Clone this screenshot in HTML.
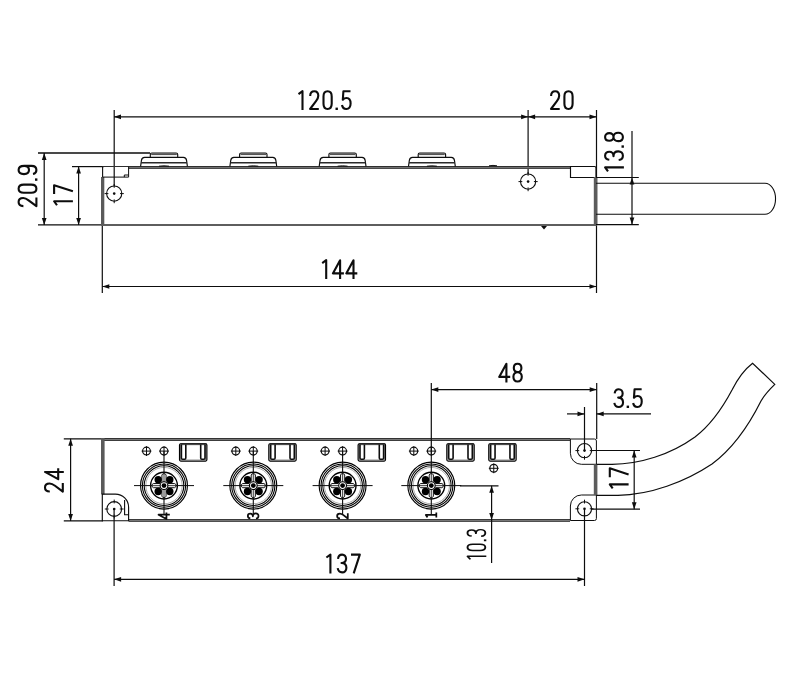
<!DOCTYPE html>
<html><head><meta charset="utf-8"><style>
html,body{margin:0;padding:0;background:#fff;width:800px;height:700px;overflow:hidden}
svg{display:block}
text{font-family:"Liberation Sans",sans-serif;fill:#1c1c1c}
</style></head><body>
<svg width="800" height="700" viewBox="0 0 800 700">
<rect width="800" height="700" fill="#fff"/>
<line x1="38" y1="153" x2="150" y2="153" stroke="#0d0d0d" stroke-width="1.5"/>
<line x1="72" y1="166.6" x2="104" y2="166.6" stroke="#0d0d0d" stroke-width="1.2"/>
<line x1="38" y1="224.9" x2="102" y2="224.9" stroke="#0d0d0d" stroke-width="1.2"/>
<line x1="44.2" y1="153" x2="44.2" y2="224.9" stroke="#0d0d0d" stroke-width="1.2"/>
<polygon points="44.20,153.00 41.85,160.00 46.55,160.00" fill="#0d0d0d"/>
<polygon points="44.20,224.90 41.85,217.90 46.55,217.90" fill="#0d0d0d"/>
<line x1="78.6" y1="166.6" x2="78.6" y2="224.9" stroke="#0d0d0d" stroke-width="1.2"/>
<polygon points="78.60,166.60 76.25,173.60 80.95,173.60" fill="#0d0d0d"/>
<polygon points="78.60,224.90 76.25,217.90 80.95,217.90" fill="#0d0d0d"/>
<g transform="translate(37.4,186.15) rotate(-90) scale(1.0,1.0)"><path transform="translate(-15.95,0)" d="M-4.0,-14.0 C-4.0,-17 -2.2,-18.8 0.1,-18.8 C2.5,-18.8 4.1,-17 4.1,-14.2 C4.1,-12 3.2,-10.6 1.8,-8.8 L-4.1,-1 H4.6" fill="none" stroke="#0d0d0d" stroke-width="2.1" stroke-linecap="butt" stroke-linejoin="round"/><path transform="translate(-2.55,0)" d="M-4.1,-13.6 C-4.1,-17 -2.3,-18.8 0,-18.8 C2.3,-18.8 4.1,-17 4.1,-13.6 V-6.2 C4.1,-2.8 2.3,-1 0,-1 C-2.3,-1 -4.1,-2.8 -4.1,-6.2 Z" fill="none" stroke="#0d0d0d" stroke-width="2.1" stroke-linecap="butt" stroke-linejoin="round"/><rect x="5.35" y="-2.4" width="2.4" height="2.4" fill="#0d0d0d"/><path transform="translate(16.15,0)" d="M4.1,-13.2 C4.1,-10.2 2.3,-8.4 0,-8.4 C-2.3,-8.4 -4.1,-10.2 -4.1,-13.4 C-4.1,-16.8 -2.3,-18.8 0,-18.8 C2.3,-18.8 4.1,-16.8 4.1,-13.2 V-6.0 C4.1,-2.8 2.4,-1 0,-1 C-2.2,-1 -3.6,-2.3 -4.0,-4.4" fill="none" stroke="#0d0d0d" stroke-width="2.1" stroke-linecap="butt" stroke-linejoin="round"/></g>
<g transform="translate(72.9,195.4) rotate(-90) scale(1.0,1.0)"><path transform="translate(-7.55,0)" d="M-2.3,-15.9 L1.7,-18.8 V0" fill="none" stroke="#0d0d0d" stroke-width="2.1" stroke-linecap="butt" stroke-linejoin="round"/><path transform="translate(5.85,0)" d="M-4.5,-18.8 H4.3 L-1.8,0" fill="none" stroke="#0d0d0d" stroke-width="2.1" stroke-linecap="butt" stroke-linejoin="round"/></g>
<line x1="114.2" y1="110" x2="114.2" y2="186" stroke="#0d0d0d" stroke-width="1.2"/>
<line x1="528.1" y1="110" x2="528.1" y2="174" stroke="#0d0d0d" stroke-width="1.2"/>
<line x1="596.5" y1="110" x2="596.5" y2="293" stroke="#0d0d0d" stroke-width="1.2"/>
<line x1="114" y1="116.8" x2="528.1" y2="116.8" stroke="#0d0d0d" stroke-width="1.2"/>
<polygon points="114.00,116.80 121.00,114.45 121.00,119.15" fill="#0d0d0d"/>
<polygon points="528.10,116.80 521.10,114.45 521.10,119.15" fill="#0d0d0d"/>
<line x1="528.1" y1="116.8" x2="596.5" y2="116.8" stroke="#0d0d0d" stroke-width="1.2"/>
<polygon points="528.10,116.80 535.10,114.45 535.10,119.15" fill="#0d0d0d"/>
<polygon points="596.50,116.80 589.50,114.45 589.50,119.15" fill="#0d0d0d"/>
<g transform="translate(324.6,110) scale(1.0)"><path transform="translate(-23.80,0)" d="M-2.3,-15.9 L1.7,-18.8 V0" fill="none" stroke="#0d0d0d" stroke-width="2.1" stroke-linecap="butt" stroke-linejoin="round"/><path transform="translate(-10.40,0)" d="M-4.0,-14.0 C-4.0,-17 -2.2,-18.8 0.1,-18.8 C2.5,-18.8 4.1,-17 4.1,-14.2 C4.1,-12 3.2,-10.6 1.8,-8.8 L-4.1,-1 H4.6" fill="none" stroke="#0d0d0d" stroke-width="2.1" stroke-linecap="butt" stroke-linejoin="round"/><path transform="translate(3.00,0)" d="M-4.1,-13.6 C-4.1,-17 -2.3,-18.8 0,-18.8 C2.3,-18.8 4.1,-17 4.1,-13.6 V-6.2 C4.1,-2.8 2.3,-1 0,-1 C-2.3,-1 -4.1,-2.8 -4.1,-6.2 Z" fill="none" stroke="#0d0d0d" stroke-width="2.1" stroke-linecap="butt" stroke-linejoin="round"/><rect x="10.90" y="-2.4" width="2.4" height="2.4" fill="#0d0d0d"/><path transform="translate(21.70,0)" d="M4.2,-18.8 H-2.9 L-3.5,-10.2 C-2.6,-11.4 -1.3,-12.0 0.3,-12.0 C2.9,-12.0 4.3,-9.8 4.3,-6.4 C4.3,-2.9 2.6,-1 0.1,-1 C-2.3,-1 -3.9,-2.5 -4.3,-5.0" fill="none" stroke="#0d0d0d" stroke-width="2.1" stroke-linecap="butt" stroke-linejoin="round"/></g>
<g transform="translate(561.75,110) scale(1.0)"><path transform="translate(-6.65,0)" d="M-4.0,-14.0 C-4.0,-17 -2.2,-18.8 0.1,-18.8 C2.5,-18.8 4.1,-17 4.1,-14.2 C4.1,-12 3.2,-10.6 1.8,-8.8 L-4.1,-1 H4.6" fill="none" stroke="#0d0d0d" stroke-width="2.1" stroke-linecap="butt" stroke-linejoin="round"/><path transform="translate(6.75,0)" d="M-4.1,-13.6 C-4.1,-17 -2.3,-18.8 0,-18.8 C2.3,-18.8 4.1,-17 4.1,-13.6 V-6.2 C4.1,-2.8 2.3,-1 0,-1 C-2.3,-1 -4.1,-2.8 -4.1,-6.2 Z" fill="none" stroke="#0d0d0d" stroke-width="2.1" stroke-linecap="butt" stroke-linejoin="round"/></g>
<line x1="102.3" y1="224" x2="102.3" y2="293" stroke="#0d0d0d" stroke-width="1.2"/>
<line x1="102.3" y1="286.5" x2="596.5" y2="286.5" stroke="#0d0d0d" stroke-width="1.2"/>
<polygon points="102.30,286.50 109.30,284.15 109.30,288.85" fill="#0d0d0d"/>
<polygon points="596.50,286.50 589.50,284.15 589.50,288.85" fill="#0d0d0d"/>
<g transform="translate(339.5,279) scale(1.0)"><path transform="translate(-15.00,0)" d="M-2.3,-15.9 L1.7,-18.8 V0" fill="none" stroke="#0d0d0d" stroke-width="2.1" stroke-linecap="butt" stroke-linejoin="round"/><path transform="translate(-1.60,0)" d="M2.2,0 V-18.8 L-5.0,-5.6 H6.0" fill="none" stroke="#0d0d0d" stroke-width="2.1" stroke-linecap="butt" stroke-linejoin="round"/><path transform="translate(11.80,0)" d="M2.2,0 V-18.8 L-5.0,-5.6 H6.0" fill="none" stroke="#0d0d0d" stroke-width="2.1" stroke-linecap="butt" stroke-linejoin="round"/></g>
<rect x="102" y="166" width="468" height="1" fill="#2e2e2e"/>
<rect x="128.6" y="167" width="441.4" height="1" fill="#707070"/>
<rect x="128.6" y="168" width="441.4" height="1" fill="#4a4a4a"/>
<rect x="101" y="224" width="496" height="2" fill="#5e5e5e"/>
<line x1="102.6" y1="166.4" x2="102.6" y2="177.5" stroke="#0d0d0d" stroke-width="1.1"/>
<rect x="101" y="177" width="3.3" height="48" fill="#5a5a5a"/>
<path d="M102.6,177.1 H128.6 V166.6 M124.3,177.1 V175 H128.6" stroke="#0d0d0d" stroke-width="1" fill="none"/>
<path d="M570.5,166.5 V177.5 H596 V168 Q596,166.5 594.5,166.5 Z" stroke="#0d0d0d" stroke-width="1.15" fill="none"/>
<rect x="593.8" y="177" width="3.6" height="48" fill="#5c5c5c"/>
<circle cx="114.2" cy="193.6" r="7.6" fill="none" stroke="#0d0d0d" stroke-width="1.1"/>
<circle cx="114.2" cy="193.6" r="1.3" fill="#0d0d0d"/>
<line x1="120.0" y1="193.6" x2="123.8" y2="193.6" stroke="#0d0d0d" stroke-width="1"/>
<line x1="108.4" y1="193.6" x2="104.60000000000001" y2="193.6" stroke="#0d0d0d" stroke-width="1"/>
<line x1="114.2" y1="199.4" x2="114.2" y2="203.2" stroke="#0d0d0d" stroke-width="1"/>
<line x1="114.2" y1="187.79999999999998" x2="114.2" y2="184.0" stroke="#0d0d0d" stroke-width="1"/>
<circle cx="528.1" cy="181.6" r="7.6" fill="none" stroke="#0d0d0d" stroke-width="1.1"/>
<circle cx="528.1" cy="181.6" r="1.3" fill="#0d0d0d"/>
<line x1="533.9" y1="181.6" x2="537.7" y2="181.6" stroke="#0d0d0d" stroke-width="1"/>
<line x1="522.3000000000001" y1="181.6" x2="518.5" y2="181.6" stroke="#0d0d0d" stroke-width="1"/>
<line x1="528.1" y1="187.4" x2="528.1" y2="191.2" stroke="#0d0d0d" stroke-width="1"/>
<line x1="528.1" y1="175.79999999999998" x2="528.1" y2="172.0" stroke="#0d0d0d" stroke-width="1"/>
<polygon points="541,226 547,226 544,229.5" fill="#0d0d0d"/>
<path d="M489,165.8 Q493,165 497,165.8" stroke="#0d0d0d" stroke-width="1" fill="none"/>
<path d="M150.3,157.4 V154.6 Q150.3,153 151.9,153 H176.1 Q177.7,153 177.7,154.6 V157.4" stroke="#0d0d0d" stroke-width="1.15" fill="none"/>
<line x1="151.2" y1="154.2" x2="176.8" y2="154.2" stroke="#555" stroke-width="1.8"/>
<path d="M140.6,166.4 L141.4,160.6 Q141.8,157.4 144.6,157.4 H183.4 Q186.2,157.4 186.6,160.6 L187.4,166.4" stroke="#0d0d0d" stroke-width="1.15" fill="none"/>
<line x1="141.1" y1="162.8" x2="186.9" y2="162.8" stroke="#2a2a2a" stroke-width="1.5"/>
<path d="M159,166.2 Q164,165.4 169,166.2" stroke="#0d0d0d" stroke-width="1" fill="none"/>
<path d="M239.60000000000002,157.4 V154.6 Q239.60000000000002,153 241.20000000000002,153 H265.40000000000003 Q267.0,153 267.0,154.6 V157.4" stroke="#0d0d0d" stroke-width="1.15" fill="none"/>
<line x1="240.5" y1="154.2" x2="266.1" y2="154.2" stroke="#555" stroke-width="1.8"/>
<path d="M229.9,166.4 L230.70000000000002,160.6 Q231.10000000000002,157.4 233.9,157.4 H272.7 Q275.5,157.4 275.90000000000003,160.6 L276.7,166.4" stroke="#0d0d0d" stroke-width="1.15" fill="none"/>
<line x1="230.4" y1="162.8" x2="276.2" y2="162.8" stroke="#2a2a2a" stroke-width="1.5"/>
<path d="M248.3,166.2 Q253.3,165.4 258.3,166.2" stroke="#0d0d0d" stroke-width="1" fill="none"/>
<path d="M328.90000000000003,157.4 V154.6 Q328.90000000000003,153 330.5,153 H354.70000000000005 Q356.3,153 356.3,154.6 V157.4" stroke="#0d0d0d" stroke-width="1.15" fill="none"/>
<line x1="329.8" y1="154.2" x2="355.40000000000003" y2="154.2" stroke="#555" stroke-width="1.8"/>
<path d="M319.20000000000005,166.4 L320.0,160.6 Q320.40000000000003,157.4 323.20000000000005,157.4 H362.0 Q364.8,157.4 365.20000000000005,160.6 L366.0,166.4" stroke="#0d0d0d" stroke-width="1.15" fill="none"/>
<line x1="319.70000000000005" y1="162.8" x2="365.5" y2="162.8" stroke="#2a2a2a" stroke-width="1.5"/>
<path d="M337.6,166.2 Q342.6,165.4 347.6,166.2" stroke="#0d0d0d" stroke-width="1" fill="none"/>
<path d="M418.2,157.4 V154.6 Q418.2,153 419.79999999999995,153 H444.0 Q445.59999999999997,153 445.59999999999997,154.6 V157.4" stroke="#0d0d0d" stroke-width="1.15" fill="none"/>
<line x1="419.09999999999997" y1="154.2" x2="444.7" y2="154.2" stroke="#555" stroke-width="1.8"/>
<path d="M408.5,166.4 L409.29999999999995,160.6 Q409.7,157.4 412.5,157.4 H451.29999999999995 Q454.09999999999997,157.4 454.5,160.6 L455.29999999999995,166.4" stroke="#0d0d0d" stroke-width="1.15" fill="none"/>
<line x1="409.0" y1="162.8" x2="454.79999999999995" y2="162.8" stroke="#2a2a2a" stroke-width="1.5"/>
<path d="M426.9,166.2 Q431.9,165.4 436.9,166.2" stroke="#0d0d0d" stroke-width="1" fill="none"/>
<path d="M596,183.2 H765 A10.5,15.5 0 0 1 765,214.3 H596" stroke="#0d0d0d" stroke-width="1.1" fill="none"/>
<line x1="596" y1="177.5" x2="638.8" y2="177.5" stroke="#0d0d0d" stroke-width="1.2"/>
<line x1="596" y1="224.6" x2="638.8" y2="224.6" stroke="#0d0d0d" stroke-width="1.2"/>
<line x1="632" y1="131" x2="632" y2="224.6" stroke="#0d0d0d" stroke-width="1.2"/>
<polygon points="632.00,177.50 629.65,184.50 634.35,184.50" fill="#0d0d0d"/>
<polygon points="632.00,224.60 629.65,217.60 634.35,217.60" fill="#0d0d0d"/>
<g transform="translate(623.9,151.9) rotate(-90) scale(1.0,1.0)"><path transform="translate(-17.15,0)" d="M-2.3,-15.9 L1.7,-18.8 V0" fill="none" stroke="#0d0d0d" stroke-width="2.1" stroke-linecap="butt" stroke-linejoin="round"/><path transform="translate(-3.75,0)" d="M-4.1,-14.6 C-3.7,-17.4 -2.1,-18.8 0,-18.8 C2.4,-18.8 3.9,-17.1 3.9,-14.6 C3.9,-12 2.3,-10.4 -0.6,-10.4 C2.6,-10.4 4.3,-8.4 4.3,-5.6 C4.3,-2.7 2.5,-1 0,-1 C-2.4,-1 -4.0,-2.5 -4.4,-5.2" fill="none" stroke="#0d0d0d" stroke-width="2.1" stroke-linecap="butt" stroke-linejoin="round"/><rect x="4.15" y="-2.4" width="2.4" height="2.4" fill="#0d0d0d"/><path transform="translate(14.95,0)" d="M0,-10.4 C-2.3,-10.4 -3.8,-12 -3.8,-14.6 C-3.8,-17.2 -2.3,-18.8 0,-18.8 C2.3,-18.8 3.8,-17.2 3.8,-14.6 C3.8,-12 2.3,-10.4 0,-10.4 C-2.6,-10.4 -4.2,-8.4 -4.2,-5.7 C-4.2,-2.8 -2.5,-1 0,-1 C2.5,-1 4.2,-2.8 4.2,-5.7 C4.2,-8.4 2.6,-10.4 0,-10.4 Z" fill="none" stroke="#0d0d0d" stroke-width="2.1" stroke-linecap="butt" stroke-linejoin="round"/></g>
<line x1="63.8" y1="438.8" x2="103" y2="438.8" stroke="#0d0d0d" stroke-width="1.2"/>
<line x1="63.8" y1="520.9" x2="103" y2="520.9" stroke="#0d0d0d" stroke-width="1.2"/>
<line x1="70.6" y1="438.8" x2="70.6" y2="520.9" stroke="#0d0d0d" stroke-width="1.2"/>
<polygon points="70.60,438.80 68.25,445.80 72.95,445.80" fill="#0d0d0d"/>
<polygon points="70.60,520.90 68.25,513.90 72.95,513.90" fill="#0d0d0d"/>
<g transform="translate(63.8,480.45) rotate(-90) scale(1.0,1.0)"><path transform="translate(-7.10,0)" d="M-4.0,-14.0 C-4.0,-17 -2.2,-18.8 0.1,-18.8 C2.5,-18.8 4.1,-17 4.1,-14.2 C4.1,-12 3.2,-10.6 1.8,-8.8 L-4.1,-1 H4.6" fill="none" stroke="#0d0d0d" stroke-width="2.1" stroke-linecap="butt" stroke-linejoin="round"/><path transform="translate(6.30,0)" d="M2.2,0 V-18.8 L-5.0,-5.6 H6.0" fill="none" stroke="#0d0d0d" stroke-width="2.1" stroke-linecap="butt" stroke-linejoin="round"/></g>
<rect x="101" y="438" width="469" height="1" fill="#333"/>
<rect x="101" y="439" width="469" height="1" fill="#777"/>
<rect x="101" y="440" width="469" height="1" fill="#3c3c3c"/>
<rect x="128.6" y="519" width="441.4" height="1" fill="#3a3a3a"/>
<rect x="128.6" y="520" width="441.4" height="1" fill="#777"/>
<rect x="128.6" y="521" width="441.4" height="1" fill="#505050"/>
<rect x="101" y="438" width="3.6" height="56.4" fill="#5a5a5a"/>
<path d="M102.3,494.1 H115.4 A13.2,13.2 0 0 1 128.6,507.3 V520.7 H102.3 Z" stroke="#0d0d0d" stroke-width="1.15" fill="none"/>
<path d="M124.6,500 V514.7 H128.6" stroke="#0d0d0d" stroke-width="1.1" fill="none"/>
<circle cx="114.2" cy="509" r="7.4" fill="none" stroke="#0d0d0d" stroke-width="1.1"/>
<circle cx="114.2" cy="509" r="1.3" fill="#0d0d0d"/>
<line x1="119.8" y1="509.0" x2="123.60000000000001" y2="509.0" stroke="#0d0d0d" stroke-width="1"/>
<line x1="108.60000000000001" y1="509.0" x2="104.8" y2="509.0" stroke="#0d0d0d" stroke-width="1"/>
<line x1="114.2" y1="514.6" x2="114.2" y2="518.4" stroke="#0d0d0d" stroke-width="1"/>
<line x1="114.2" y1="503.4" x2="114.2" y2="499.6" stroke="#0d0d0d" stroke-width="1"/>
<line x1="114.1" y1="509.1" x2="114.1" y2="586" stroke="#0d0d0d" stroke-width="1.2"/>
<path d="M570,439 H594.5 Q596.4,439 596.4,441 V464.3 H581.4 A11,11 0 0 1 570.4,453.3 V439" stroke="#0d0d0d" stroke-width="1" fill="none"/>
<path d="M596.4,495 H581.4 A11,11 0 0 0 570.4,506 V520.5 H594.5 Q596.4,520.5 596.4,518.5 V495" stroke="#0d0d0d" stroke-width="1" fill="none"/>
<rect x="593.8" y="464.3" width="3.6" height="30.7" fill="#5c5c5c"/>
<circle cx="584.5" cy="450.6" r="7.1" fill="none" stroke="#0d0d0d" stroke-width="1.1"/>
<circle cx="584.5" cy="450.6" r="1.3" fill="#0d0d0d"/>
<line x1="589.8" y1="450.6" x2="593.6" y2="450.6" stroke="#0d0d0d" stroke-width="1"/>
<line x1="579.2" y1="450.6" x2="575.4" y2="450.6" stroke="#0d0d0d" stroke-width="1"/>
<line x1="584.5" y1="455.90000000000003" x2="584.5" y2="459.70000000000005" stroke="#0d0d0d" stroke-width="1"/>
<line x1="584.5" y1="445.3" x2="584.5" y2="441.5" stroke="#0d0d0d" stroke-width="1"/>
<circle cx="584.5" cy="508.8" r="7.1" fill="none" stroke="#0d0d0d" stroke-width="1.1"/>
<circle cx="584.5" cy="508.8" r="1.3" fill="#0d0d0d"/>
<line x1="589.8" y1="508.8" x2="593.6" y2="508.8" stroke="#0d0d0d" stroke-width="1"/>
<line x1="579.2" y1="508.8" x2="575.4" y2="508.8" stroke="#0d0d0d" stroke-width="1"/>
<line x1="584.5" y1="514.1" x2="584.5" y2="517.9" stroke="#0d0d0d" stroke-width="1"/>
<line x1="584.5" y1="503.5" x2="584.5" y2="499.7" stroke="#0d0d0d" stroke-width="1"/>
<line x1="584.5" y1="407" x2="584.5" y2="450.6" stroke="#0d0d0d" stroke-width="1.2"/>
<line x1="584.5" y1="508.8" x2="584.5" y2="586" stroke="#0d0d0d" stroke-width="1.2"/>
<line x1="596.7" y1="383" x2="596.7" y2="439" stroke="#0d0d0d" stroke-width="1.2"/>
<circle cx="146.5" cy="451.1" r="3.9" fill="none" stroke="#0d0d0d" stroke-width="1.2"/>
<line x1="141.6" y1="451.1" x2="151.4" y2="451.1" stroke="#0d0d0d" stroke-width="1.0"/>
<line x1="146.5" y1="446.20000000000005" x2="146.5" y2="456.0" stroke="#0d0d0d" stroke-width="1.0"/>
<circle cx="164" cy="451.1" r="3.9" fill="none" stroke="#0d0d0d" stroke-width="1.2"/>
<line x1="159.1" y1="451.1" x2="168.9" y2="451.1" stroke="#0d0d0d" stroke-width="1.0"/>
<line x1="164" y1="446.20000000000005" x2="164" y2="456.0" stroke="#0d0d0d" stroke-width="1.0"/>
<rect x="179.55" y="443.75" width="27.3" height="17.3" rx="1.2" fill="none" stroke="#000" stroke-width="1.25"/>
<line x1="180.2" y1="444.3" x2="206.7" y2="444.3" stroke="#0d0d0d" stroke-width="1.6"/>
<rect x="180.6" y="444.6" width="25.2" height="15.4" fill="none" stroke="#666" stroke-width="0.7"/>
<path d="M181.4,444.6 V458 Q181.4,459.3 182.6,459.3 H184.6 Q185.8,459.3 185.8,458 V444.6" fill="none" stroke="#0d0d0d" stroke-width="1.6"/>
<path d="M200.7,444.6 V458 Q200.7,459.3 201.9,459.3 H203.8 Q205.0,459.3 205.0,458 V444.6" fill="none" stroke="#0d0d0d" stroke-width="1.6"/>
<circle cx="164" cy="485.6" r="23.45" fill="none" stroke="#000" stroke-width="1.15"/>
<circle cx="164" cy="485.6" r="21.6" fill="none" stroke="#000" stroke-width="1.1"/>
<circle cx="164" cy="485.6" r="19.8" fill="none" stroke="#000" stroke-width="1.05"/>
<circle cx="164" cy="485.6" r="18.2" fill="none" stroke="#888" stroke-width="0.7"/>
<circle cx="164" cy="485.6" r="13.4" fill="none" stroke="#000" stroke-width="1.4"/>
<line x1="134" y1="485.6" x2="194" y2="485.6" stroke="#0d0d0d" stroke-width="1"/>
<line x1="164" y1="451.1" x2="164" y2="514" stroke="#0d0d0d" stroke-width="1.1"/>
<path d="M-2.1,-4 V-10.6 L-1.2,-11.8 H1.2 L2.1,-10.6 V-4" fill="#eee" stroke="#000" stroke-width="0.9" transform="translate(164,485.6) rotate(0)"/>
<line x1="0" y1="-11.8" x2="0" y2="-3.6" stroke="#333" stroke-width="0.9" transform="translate(164,485.6) rotate(0)"/>
<path d="M-2.1,-4 V-10.6 L-1.2,-11.8 H1.2 L2.1,-10.6 V-4" fill="#eee" stroke="#000" stroke-width="0.9" transform="translate(164,485.6) rotate(90)"/>
<line x1="0" y1="-11.8" x2="0" y2="-3.6" stroke="#333" stroke-width="0.9" transform="translate(164,485.6) rotate(90)"/>
<path d="M-2.1,-4 V-10.6 L-1.2,-11.8 H1.2 L2.1,-10.6 V-4" fill="#eee" stroke="#000" stroke-width="0.9" transform="translate(164,485.6) rotate(180)"/>
<line x1="0" y1="-11.8" x2="0" y2="-3.6" stroke="#333" stroke-width="0.9" transform="translate(164,485.6) rotate(180)"/>
<path d="M-2.1,-4 V-10.6 L-1.2,-11.8 H1.2 L2.1,-10.6 V-4" fill="#eee" stroke="#000" stroke-width="0.9" transform="translate(164,485.6) rotate(270)"/>
<line x1="0" y1="-11.8" x2="0" y2="-3.6" stroke="#333" stroke-width="0.9" transform="translate(164,485.6) rotate(270)"/>
<circle cx="158.2" cy="479.70000000000005" r="3.7" fill="#000"/>
<circle cx="169.8" cy="479.70000000000005" r="3.7" fill="#000"/>
<circle cx="158.2" cy="491.5" r="3.7" fill="#000"/>
<circle cx="169.8" cy="491.5" r="3.7" fill="#000"/>
<circle cx="164" cy="485.6" r="3.9" fill="#fff" stroke="#000" stroke-width="1.1"/>
<circle cx="164" cy="485.6" r="2.4" fill="#000"/>
<g transform="translate(169.8,516.0) rotate(-90) scale(0.6,0.6)"><path transform="translate(0.00,0)" d="M2.2,0 V-18.8 L-5.0,-5.6 H6.0" fill="none" stroke="#0d0d0d" stroke-width="2.9" stroke-linecap="butt" stroke-linejoin="round"/></g>
<circle cx="235.8" cy="451.1" r="3.9" fill="none" stroke="#0d0d0d" stroke-width="1.2"/>
<line x1="230.9" y1="451.1" x2="240.70000000000002" y2="451.1" stroke="#0d0d0d" stroke-width="1.0"/>
<line x1="235.8" y1="446.20000000000005" x2="235.8" y2="456.0" stroke="#0d0d0d" stroke-width="1.0"/>
<circle cx="253.3" cy="451.1" r="3.9" fill="none" stroke="#0d0d0d" stroke-width="1.2"/>
<line x1="248.4" y1="451.1" x2="258.2" y2="451.1" stroke="#0d0d0d" stroke-width="1.0"/>
<line x1="253.3" y1="446.20000000000005" x2="253.3" y2="456.0" stroke="#0d0d0d" stroke-width="1.0"/>
<rect x="268.85" y="443.75" width="27.3" height="17.3" rx="1.2" fill="none" stroke="#000" stroke-width="1.25"/>
<line x1="269.5" y1="444.3" x2="296.0" y2="444.3" stroke="#0d0d0d" stroke-width="1.6"/>
<rect x="269.90000000000003" y="444.6" width="25.2" height="15.4" fill="none" stroke="#666" stroke-width="0.7"/>
<path d="M270.7,444.6 V458 Q270.7,459.3 271.90000000000003,459.3 H273.90000000000003 Q275.1,459.3 275.1,458 V444.6" fill="none" stroke="#0d0d0d" stroke-width="1.6"/>
<path d="M290.0,444.6 V458 Q290.0,459.3 291.2,459.3 H293.1 Q294.3,459.3 294.3,458 V444.6" fill="none" stroke="#0d0d0d" stroke-width="1.6"/>
<circle cx="253.3" cy="485.6" r="23.45" fill="none" stroke="#000" stroke-width="1.15"/>
<circle cx="253.3" cy="485.6" r="21.6" fill="none" stroke="#000" stroke-width="1.1"/>
<circle cx="253.3" cy="485.6" r="19.8" fill="none" stroke="#000" stroke-width="1.05"/>
<circle cx="253.3" cy="485.6" r="18.2" fill="none" stroke="#888" stroke-width="0.7"/>
<circle cx="253.3" cy="485.6" r="13.4" fill="none" stroke="#000" stroke-width="1.4"/>
<line x1="223.3" y1="485.6" x2="283.3" y2="485.6" stroke="#0d0d0d" stroke-width="1"/>
<line x1="253.3" y1="451.1" x2="253.3" y2="514" stroke="#0d0d0d" stroke-width="1.1"/>
<path d="M-2.1,-4 V-10.6 L-1.2,-11.8 H1.2 L2.1,-10.6 V-4" fill="#eee" stroke="#000" stroke-width="0.9" transform="translate(253.3,485.6) rotate(0)"/>
<line x1="0" y1="-11.8" x2="0" y2="-3.6" stroke="#333" stroke-width="0.9" transform="translate(253.3,485.6) rotate(0)"/>
<path d="M-2.1,-4 V-10.6 L-1.2,-11.8 H1.2 L2.1,-10.6 V-4" fill="#eee" stroke="#000" stroke-width="0.9" transform="translate(253.3,485.6) rotate(90)"/>
<line x1="0" y1="-11.8" x2="0" y2="-3.6" stroke="#333" stroke-width="0.9" transform="translate(253.3,485.6) rotate(90)"/>
<path d="M-2.1,-4 V-10.6 L-1.2,-11.8 H1.2 L2.1,-10.6 V-4" fill="#eee" stroke="#000" stroke-width="0.9" transform="translate(253.3,485.6) rotate(180)"/>
<line x1="0" y1="-11.8" x2="0" y2="-3.6" stroke="#333" stroke-width="0.9" transform="translate(253.3,485.6) rotate(180)"/>
<path d="M-2.1,-4 V-10.6 L-1.2,-11.8 H1.2 L2.1,-10.6 V-4" fill="#eee" stroke="#000" stroke-width="0.9" transform="translate(253.3,485.6) rotate(270)"/>
<line x1="0" y1="-11.8" x2="0" y2="-3.6" stroke="#333" stroke-width="0.9" transform="translate(253.3,485.6) rotate(270)"/>
<circle cx="247.5" cy="479.70000000000005" r="3.7" fill="#000"/>
<circle cx="259.1" cy="479.70000000000005" r="3.7" fill="#000"/>
<circle cx="247.5" cy="491.5" r="3.7" fill="#000"/>
<circle cx="259.1" cy="491.5" r="3.7" fill="#000"/>
<circle cx="253.3" cy="485.6" r="3.9" fill="#fff" stroke="#000" stroke-width="1.1"/>
<circle cx="253.3" cy="485.6" r="2.4" fill="#000"/>
<g transform="translate(259.1,516.0) rotate(-90) scale(0.6,0.6)"><path transform="translate(0.00,0)" d="M-4.1,-14.6 C-3.7,-17.4 -2.1,-18.8 0,-18.8 C2.4,-18.8 3.9,-17.1 3.9,-14.6 C3.9,-12 2.3,-10.4 -0.6,-10.4 C2.6,-10.4 4.3,-8.4 4.3,-5.6 C4.3,-2.7 2.5,-1 0,-1 C-2.4,-1 -4.0,-2.5 -4.4,-5.2" fill="none" stroke="#0d0d0d" stroke-width="2.9" stroke-linecap="butt" stroke-linejoin="round"/></g>
<circle cx="325.1" cy="451.1" r="3.9" fill="none" stroke="#0d0d0d" stroke-width="1.2"/>
<line x1="320.20000000000005" y1="451.1" x2="330.0" y2="451.1" stroke="#0d0d0d" stroke-width="1.0"/>
<line x1="325.1" y1="446.20000000000005" x2="325.1" y2="456.0" stroke="#0d0d0d" stroke-width="1.0"/>
<circle cx="342.6" cy="451.1" r="3.9" fill="none" stroke="#0d0d0d" stroke-width="1.2"/>
<line x1="337.70000000000005" y1="451.1" x2="347.5" y2="451.1" stroke="#0d0d0d" stroke-width="1.0"/>
<line x1="342.6" y1="446.20000000000005" x2="342.6" y2="456.0" stroke="#0d0d0d" stroke-width="1.0"/>
<rect x="358.15000000000003" y="443.75" width="27.3" height="17.3" rx="1.2" fill="none" stroke="#000" stroke-width="1.25"/>
<line x1="358.8" y1="444.3" x2="385.3" y2="444.3" stroke="#0d0d0d" stroke-width="1.6"/>
<rect x="359.20000000000005" y="444.6" width="25.2" height="15.4" fill="none" stroke="#666" stroke-width="0.7"/>
<path d="M360.0,444.6 V458 Q360.0,459.3 361.20000000000005,459.3 H363.20000000000005 Q364.40000000000003,459.3 364.40000000000003,458 V444.6" fill="none" stroke="#0d0d0d" stroke-width="1.6"/>
<path d="M379.3,444.6 V458 Q379.3,459.3 380.5,459.3 H382.40000000000003 Q383.6,459.3 383.6,458 V444.6" fill="none" stroke="#0d0d0d" stroke-width="1.6"/>
<circle cx="342.6" cy="485.6" r="23.45" fill="none" stroke="#000" stroke-width="1.15"/>
<circle cx="342.6" cy="485.6" r="21.6" fill="none" stroke="#000" stroke-width="1.1"/>
<circle cx="342.6" cy="485.6" r="19.8" fill="none" stroke="#000" stroke-width="1.05"/>
<circle cx="342.6" cy="485.6" r="18.2" fill="none" stroke="#888" stroke-width="0.7"/>
<circle cx="342.6" cy="485.6" r="13.4" fill="none" stroke="#000" stroke-width="1.4"/>
<line x1="312.6" y1="485.6" x2="372.6" y2="485.6" stroke="#0d0d0d" stroke-width="1"/>
<line x1="342.6" y1="451.1" x2="342.6" y2="514" stroke="#0d0d0d" stroke-width="1.1"/>
<path d="M-2.1,-4 V-10.6 L-1.2,-11.8 H1.2 L2.1,-10.6 V-4" fill="#eee" stroke="#000" stroke-width="0.9" transform="translate(342.6,485.6) rotate(0)"/>
<line x1="0" y1="-11.8" x2="0" y2="-3.6" stroke="#333" stroke-width="0.9" transform="translate(342.6,485.6) rotate(0)"/>
<path d="M-2.1,-4 V-10.6 L-1.2,-11.8 H1.2 L2.1,-10.6 V-4" fill="#eee" stroke="#000" stroke-width="0.9" transform="translate(342.6,485.6) rotate(90)"/>
<line x1="0" y1="-11.8" x2="0" y2="-3.6" stroke="#333" stroke-width="0.9" transform="translate(342.6,485.6) rotate(90)"/>
<path d="M-2.1,-4 V-10.6 L-1.2,-11.8 H1.2 L2.1,-10.6 V-4" fill="#eee" stroke="#000" stroke-width="0.9" transform="translate(342.6,485.6) rotate(180)"/>
<line x1="0" y1="-11.8" x2="0" y2="-3.6" stroke="#333" stroke-width="0.9" transform="translate(342.6,485.6) rotate(180)"/>
<path d="M-2.1,-4 V-10.6 L-1.2,-11.8 H1.2 L2.1,-10.6 V-4" fill="#eee" stroke="#000" stroke-width="0.9" transform="translate(342.6,485.6) rotate(270)"/>
<line x1="0" y1="-11.8" x2="0" y2="-3.6" stroke="#333" stroke-width="0.9" transform="translate(342.6,485.6) rotate(270)"/>
<circle cx="336.8" cy="479.70000000000005" r="3.7" fill="#000"/>
<circle cx="348.40000000000003" cy="479.70000000000005" r="3.7" fill="#000"/>
<circle cx="336.8" cy="491.5" r="3.7" fill="#000"/>
<circle cx="348.40000000000003" cy="491.5" r="3.7" fill="#000"/>
<circle cx="342.6" cy="485.6" r="3.9" fill="#fff" stroke="#000" stroke-width="1.1"/>
<circle cx="342.6" cy="485.6" r="2.4" fill="#000"/>
<g transform="translate(348.40000000000003,516.0) rotate(-90) scale(0.6,0.6)"><path transform="translate(0.00,0)" d="M-4.0,-14.0 C-4.0,-17 -2.2,-18.8 0.1,-18.8 C2.5,-18.8 4.1,-17 4.1,-14.2 C4.1,-12 3.2,-10.6 1.8,-8.8 L-4.1,-1 H4.6" fill="none" stroke="#0d0d0d" stroke-width="2.9" stroke-linecap="butt" stroke-linejoin="round"/></g>
<circle cx="413.8" cy="451.1" r="3.9" fill="none" stroke="#0d0d0d" stroke-width="1.2"/>
<line x1="408.90000000000003" y1="451.1" x2="418.7" y2="451.1" stroke="#0d0d0d" stroke-width="1.0"/>
<line x1="413.8" y1="446.20000000000005" x2="413.8" y2="456.0" stroke="#0d0d0d" stroke-width="1.0"/>
<circle cx="431.3" cy="451.1" r="3.9" fill="none" stroke="#0d0d0d" stroke-width="1.2"/>
<line x1="426.40000000000003" y1="451.1" x2="436.2" y2="451.1" stroke="#0d0d0d" stroke-width="1.0"/>
<line x1="431.3" y1="446.20000000000005" x2="431.3" y2="456.0" stroke="#0d0d0d" stroke-width="1.0"/>
<rect x="446.85" y="443.75" width="27.3" height="17.3" rx="1.2" fill="none" stroke="#000" stroke-width="1.25"/>
<line x1="447.5" y1="444.3" x2="474.0" y2="444.3" stroke="#0d0d0d" stroke-width="1.6"/>
<rect x="447.90000000000003" y="444.6" width="25.2" height="15.4" fill="none" stroke="#666" stroke-width="0.7"/>
<path d="M448.7,444.6 V458 Q448.7,459.3 449.90000000000003,459.3 H451.90000000000003 Q453.1,459.3 453.1,458 V444.6" fill="none" stroke="#0d0d0d" stroke-width="1.6"/>
<path d="M468.0,444.6 V458 Q468.0,459.3 469.2,459.3 H471.1 Q472.3,459.3 472.3,458 V444.6" fill="none" stroke="#0d0d0d" stroke-width="1.6"/>
<circle cx="431.3" cy="485.6" r="23.45" fill="none" stroke="#000" stroke-width="1.15"/>
<circle cx="431.3" cy="485.6" r="21.6" fill="none" stroke="#000" stroke-width="1.1"/>
<circle cx="431.3" cy="485.6" r="19.8" fill="none" stroke="#000" stroke-width="1.05"/>
<circle cx="431.3" cy="485.6" r="18.2" fill="none" stroke="#888" stroke-width="0.7"/>
<circle cx="431.3" cy="485.6" r="13.4" fill="none" stroke="#000" stroke-width="1.4"/>
<line x1="401.3" y1="485.6" x2="461.3" y2="485.6" stroke="#0d0d0d" stroke-width="1"/>
<line x1="431.3" y1="451.1" x2="431.3" y2="514" stroke="#0d0d0d" stroke-width="1.1"/>
<path d="M-2.1,-4 V-10.6 L-1.2,-11.8 H1.2 L2.1,-10.6 V-4" fill="#eee" stroke="#000" stroke-width="0.9" transform="translate(431.3,485.6) rotate(0)"/>
<line x1="0" y1="-11.8" x2="0" y2="-3.6" stroke="#333" stroke-width="0.9" transform="translate(431.3,485.6) rotate(0)"/>
<path d="M-2.1,-4 V-10.6 L-1.2,-11.8 H1.2 L2.1,-10.6 V-4" fill="#eee" stroke="#000" stroke-width="0.9" transform="translate(431.3,485.6) rotate(90)"/>
<line x1="0" y1="-11.8" x2="0" y2="-3.6" stroke="#333" stroke-width="0.9" transform="translate(431.3,485.6) rotate(90)"/>
<path d="M-2.1,-4 V-10.6 L-1.2,-11.8 H1.2 L2.1,-10.6 V-4" fill="#eee" stroke="#000" stroke-width="0.9" transform="translate(431.3,485.6) rotate(180)"/>
<line x1="0" y1="-11.8" x2="0" y2="-3.6" stroke="#333" stroke-width="0.9" transform="translate(431.3,485.6) rotate(180)"/>
<path d="M-2.1,-4 V-10.6 L-1.2,-11.8 H1.2 L2.1,-10.6 V-4" fill="#eee" stroke="#000" stroke-width="0.9" transform="translate(431.3,485.6) rotate(270)"/>
<line x1="0" y1="-11.8" x2="0" y2="-3.6" stroke="#333" stroke-width="0.9" transform="translate(431.3,485.6) rotate(270)"/>
<circle cx="425.5" cy="479.70000000000005" r="3.7" fill="#000"/>
<circle cx="437.1" cy="479.70000000000005" r="3.7" fill="#000"/>
<circle cx="425.5" cy="491.5" r="3.7" fill="#000"/>
<circle cx="437.1" cy="491.5" r="3.7" fill="#000"/>
<circle cx="431.3" cy="485.6" r="3.9" fill="#fff" stroke="#000" stroke-width="1.1"/>
<circle cx="431.3" cy="485.6" r="2.4" fill="#000"/>
<g transform="translate(437.1,516.0) rotate(-90) scale(0.6,0.6)"><path transform="translate(0.00,0)" d="M-2.3,-15.9 L1.7,-18.8 V-0.8 M-2.6,-1.3 H6.0" fill="none" stroke="#0d0d0d" stroke-width="2.9" stroke-linecap="butt" stroke-linejoin="round"/></g>
<rect x="488.8" y="443.75" width="27.3" height="17.3" rx="1.2" fill="none" stroke="#000" stroke-width="1.25"/>
<line x1="489.45" y1="444.3" x2="515.95" y2="444.3" stroke="#0d0d0d" stroke-width="1.6"/>
<rect x="489.85" y="444.6" width="25.2" height="15.4" fill="none" stroke="#666" stroke-width="0.7"/>
<path d="M490.65,444.6 V458 Q490.65,459.3 491.85,459.3 H493.85 Q495.05,459.3 495.05,458 V444.6" fill="none" stroke="#0d0d0d" stroke-width="1.6"/>
<path d="M509.95,444.6 V458 Q509.95,459.3 511.15,459.3 H513.05 Q514.25,459.3 514.25,458 V444.6" fill="none" stroke="#0d0d0d" stroke-width="1.6"/>
<circle cx="493.75" cy="468.3" r="3.9" fill="none" stroke="#0d0d0d" stroke-width="1.2"/>
<line x1="488.85" y1="468.3" x2="498.65" y2="468.3" stroke="#0d0d0d" stroke-width="1.0"/>
<line x1="493.75" y1="463.40000000000003" x2="493.75" y2="473.2" stroke="#0d0d0d" stroke-width="1.0"/>
<line x1="431.3" y1="383" x2="431.3" y2="451" stroke="#0d0d0d" stroke-width="1.2"/>
<line x1="431.3" y1="389.6" x2="596.7" y2="389.6" stroke="#0d0d0d" stroke-width="1.2"/>
<polygon points="431.30,389.60 438.30,387.25 438.30,391.95" fill="#0d0d0d"/>
<polygon points="596.70,389.60 589.70,387.25 589.70,391.95" fill="#0d0d0d"/>
<g transform="translate(510.4,382.5) scale(1.0)"><path transform="translate(-6.20,0)" d="M2.2,0 V-18.8 L-5.0,-5.6 H6.0" fill="none" stroke="#0d0d0d" stroke-width="2.1" stroke-linecap="butt" stroke-linejoin="round"/><path transform="translate(7.20,0)" d="M0,-10.4 C-2.3,-10.4 -3.8,-12 -3.8,-14.6 C-3.8,-17.2 -2.3,-18.8 0,-18.8 C2.3,-18.8 3.8,-17.2 3.8,-14.6 C3.8,-12 2.3,-10.4 0,-10.4 C-2.6,-10.4 -4.2,-8.4 -4.2,-5.7 C-4.2,-2.8 -2.5,-1 0,-1 C2.5,-1 4.2,-2.8 4.2,-5.7 C4.2,-8.4 2.6,-10.4 0,-10.4 Z" fill="none" stroke="#0d0d0d" stroke-width="2.1" stroke-linecap="butt" stroke-linejoin="round"/></g>
<line x1="567" y1="413.9" x2="584.5" y2="413.9" stroke="#0d0d0d" stroke-width="1.2"/>
<polygon points="584.50,413.90 577.50,411.55 577.50,416.25" fill="#0d0d0d"/>
<line x1="596.7" y1="413.9" x2="651" y2="413.9" stroke="#0d0d0d" stroke-width="1.2"/>
<polygon points="596.70,413.90 603.70,411.55 603.70,416.25" fill="#0d0d0d"/>
<g transform="translate(628,408) scale(1.0)"><path transform="translate(-9.25,0)" d="M-4.1,-14.6 C-3.7,-17.4 -2.1,-18.8 0,-18.8 C2.4,-18.8 3.9,-17.1 3.9,-14.6 C3.9,-12 2.3,-10.4 -0.6,-10.4 C2.6,-10.4 4.3,-8.4 4.3,-5.6 C4.3,-2.7 2.5,-1 0,-1 C-2.4,-1 -4.0,-2.5 -4.4,-5.2" fill="none" stroke="#0d0d0d" stroke-width="2.1" stroke-linecap="butt" stroke-linejoin="round"/><rect x="-1.35" y="-2.4" width="2.4" height="2.4" fill="#0d0d0d"/><path transform="translate(9.45,0)" d="M4.2,-18.8 H-2.9 L-3.5,-10.2 C-2.6,-11.4 -1.3,-12.0 0.3,-12.0 C2.9,-12.0 4.3,-9.8 4.3,-6.4 C4.3,-2.9 2.6,-1 0.1,-1 C-2.3,-1 -3.9,-2.5 -4.3,-5.0" fill="none" stroke="#0d0d0d" stroke-width="2.1" stroke-linecap="butt" stroke-linejoin="round"/></g>
<line x1="460" y1="485.8" x2="498.5" y2="485.8" stroke="#0d0d0d" stroke-width="1.2"/>
<line x1="491.6" y1="485.8" x2="491.6" y2="563" stroke="#0d0d0d" stroke-width="1.2"/>
<polygon points="491.60,485.80 489.25,492.80 493.95,492.80" fill="#0d0d0d"/>
<polygon points="491.60,520.00 489.25,513.00 493.95,513.00" fill="#0d0d0d"/>
<g transform="translate(486.3,544.4) rotate(-90) scale(0.77,1.0)"><path transform="translate(-17.20,0)" d="M-2.3,-15.9 L1.7,-18.8 V0" fill="none" stroke="#0d0d0d" stroke-width="1.9" stroke-linecap="butt" stroke-linejoin="round"/><path transform="translate(-3.80,0)" d="M-4.1,-13.6 C-4.1,-17 -2.3,-18.8 0,-18.8 C2.3,-18.8 4.1,-17 4.1,-13.6 V-6.2 C4.1,-2.8 2.3,-1 0,-1 C-2.3,-1 -4.1,-2.8 -4.1,-6.2 Z" fill="none" stroke="#0d0d0d" stroke-width="1.9" stroke-linecap="butt" stroke-linejoin="round"/><rect x="4.10" y="-2.4" width="2.4" height="2.4" fill="#0d0d0d"/><path transform="translate(14.90,0)" d="M-4.1,-14.6 C-3.7,-17.4 -2.1,-18.8 0,-18.8 C2.4,-18.8 3.9,-17.1 3.9,-14.6 C3.9,-12 2.3,-10.4 -0.6,-10.4 C2.6,-10.4 4.3,-8.4 4.3,-5.6 C4.3,-2.7 2.5,-1 0,-1 C-2.4,-1 -4.0,-2.5 -4.4,-5.2" fill="none" stroke="#0d0d0d" stroke-width="1.9" stroke-linecap="butt" stroke-linejoin="round"/></g>
<line x1="114.1" y1="579.35" x2="584.5" y2="579.35" stroke="#0d0d0d" stroke-width="1.2"/>
<polygon points="114.10,579.35 121.10,577.00 121.10,581.70" fill="#0d0d0d"/>
<polygon points="584.50,579.35 577.50,577.00 577.50,581.70" fill="#0d0d0d"/>
<g transform="translate(342.95,573.4) scale(1.0)"><path transform="translate(-14.25,0)" d="M-2.3,-15.9 L1.7,-18.8 V0" fill="none" stroke="#0d0d0d" stroke-width="2.1" stroke-linecap="butt" stroke-linejoin="round"/><path transform="translate(-0.85,0)" d="M-4.1,-14.6 C-3.7,-17.4 -2.1,-18.8 0,-18.8 C2.4,-18.8 3.9,-17.1 3.9,-14.6 C3.9,-12 2.3,-10.4 -0.6,-10.4 C2.6,-10.4 4.3,-8.4 4.3,-5.6 C4.3,-2.7 2.5,-1 0,-1 C-2.4,-1 -4.0,-2.5 -4.4,-5.2" fill="none" stroke="#0d0d0d" stroke-width="2.1" stroke-linecap="butt" stroke-linejoin="round"/><path transform="translate(12.55,0)" d="M-4.5,-18.8 H4.3 L-1.8,0" fill="none" stroke="#0d0d0d" stroke-width="2.1" stroke-linecap="butt" stroke-linejoin="round"/></g>
<line x1="591" y1="450.5" x2="640" y2="450.5" stroke="#0d0d0d" stroke-width="1.2"/>
<line x1="591" y1="509.2" x2="640" y2="509.2" stroke="#0d0d0d" stroke-width="1.2"/>
<line x1="634.2" y1="450.5" x2="634.2" y2="509.2" stroke="#0d0d0d" stroke-width="1.2"/>
<polygon points="634.20,450.50 631.85,457.50 636.55,457.50" fill="#0d0d0d"/>
<polygon points="634.20,509.20 631.85,502.20 636.55,502.20" fill="#0d0d0d"/>
<g transform="translate(628.6,478.5) rotate(-90) scale(1.0,1.0)"><path transform="translate(-7.55,0)" d="M-2.3,-15.9 L1.7,-18.8 V0" fill="none" stroke="#0d0d0d" stroke-width="2.1" stroke-linecap="butt" stroke-linejoin="round"/><path transform="translate(5.85,0)" d="M-4.5,-18.8 H4.3 L-1.8,0" fill="none" stroke="#0d0d0d" stroke-width="2.1" stroke-linecap="butt" stroke-linejoin="round"/></g>
<path d="M596.4,464.4 H612 C640,464 670,455 695,437 C712,424 723,407 732,390 C738,378 745,369 752.6,363.2 L774.8,384.4 C769,390 765,394 761,401 C751,421 735,447 712,464 C685,482 650,495 618,495.3 H596.4" stroke="#0d0d0d" stroke-width="1.2" fill="none" stroke-linejoin="miter"/>
</svg></body></html>
